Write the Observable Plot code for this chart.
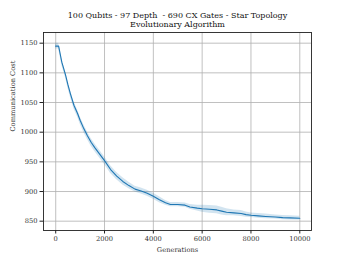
<!DOCTYPE html>
<html>
<head>
<meta charset="utf-8">
<script src="https://cdn.jsdelivr.net/npm/d3@7"></script>
<script src="https://cdn.jsdelivr.net/npm/@observablehq/plot@0.6"></script>
<style>
  html, body { margin: 0; padding: 0; background: #fff; }
</style>
</head>
<body>
<div id="chart"></div>
<script>
const titleLines = ["100 Qubits - 97 Depth  - 690 CX Gates - Star Topology", "Evolutionary Algorithm"];
const xLabel = "Generations";
const yLabel = "Communication Cost";
const xTicks = [0, 2000, 4000, 6000, 8000, 10000];
const yTicks = [850, 900, 950, 1000, 1050, 1100, 1150];

const generations = [0,120,250,400,500,600,750,900,1000,1150,1300,1450,1600,1800,2000,2250,2500,2750,3000,3250,3500,3750,4000,4250,4500,4700,5000,5300,5500,5800,6000,6300,6600,6800,7000,7300,7600,7800,8000,8300,8600,9000,9300,9600,10000];
const meanCost = [1145,1145,1118,1097,1080,1065,1045,1031,1020,1006,994,983,974,963,952,937,926,917,910,904,901,897,892,886,881,878,878,877,874,872,871,870,869,867,865,864,863,861,860,859,858,857,856,855.5,855];
const bandHalf = [5,5,5,5,5.5,5.5,6,6,6,6.5,6.5,6.5,6.5,6.5,6.5,6.5,6,6,5.5,5,5,5,5,5,4,3.5,3.5,3.5,4,5,6,6.5,6.5,6.5,6,5,5,4.5,4,4,4,3.5,3.5,3.5,3.5];

const data = generations.map((g, i) => ({g, c: meanCost[i], lo: meanCost[i] - bandHalf[i], hi: meanCost[i] + bandHalf[i]}));

const blue = "#1f77b4";
const font = "DejaVu Serif";
const fmt = d => String(d);

const chart = Plot.plot({
  width: 346,
  height: 259,
  marginLeft: 43,
  marginRight: 35,
  marginTop: 32,
  marginBottom: 29,
  style: {fontFamily: font, fontSize: "6.7px", background: "white", color: "#333"},
  x: {domain: [-500, 10480]},
  y: {domain: [834.3, 1168]},
  marks: [
    Plot.gridX(xTicks, {stroke: "#b0b0b0", strokeOpacity: 1, strokeWidth: 0.8}),
    Plot.gridY(yTicks, {stroke: "#b0b0b0", strokeOpacity: 1, strokeWidth: 0.8}),
    Plot.areaY(data, {x: "g", y1: "lo", y2: "hi", fill: blue, fillOpacity: 0.2}),
    Plot.lineY(data, {x: "g", y: "c", stroke: blue, strokeWidth: 1.1}),
    Plot.frame({stroke: "#222", strokeWidth: 0.9}),
    Plot.axisX(xTicks, {tickSize: 3.5, tickPadding: 2.5, tickFormat: fmt, label: null, stroke: "#222", fill: "#333"}),
    Plot.axisY(yTicks, {tickSize: 3.5, tickPadding: 2.5, tickFormat: fmt, label: null, stroke: "#222", fill: "#333"}),
    Plot.text([xLabel], {frameAnchor: "bottom", dy: 19, lineAnchor: "middle", fontSize: 6.7, fill: "#333"}),
    Plot.text([yLabel], {frameAnchor: "left", dx: -31, rotate: -90, lineAnchor: "middle", fontSize: 6.7, fill: "#333"}),
    Plot.text([titleLines[0]], {frameAnchor: "top", dy: -17.5, lineAnchor: "middle", fontSize: 8, fill: "#111"}),
    Plot.text([titleLines[1]], {frameAnchor: "top", dy: -8.5, lineAnchor: "middle", fontSize: 8, fill: "#111"})
  ]
});
document.getElementById("chart").appendChild(chart);
</script>
</body>
</html>
